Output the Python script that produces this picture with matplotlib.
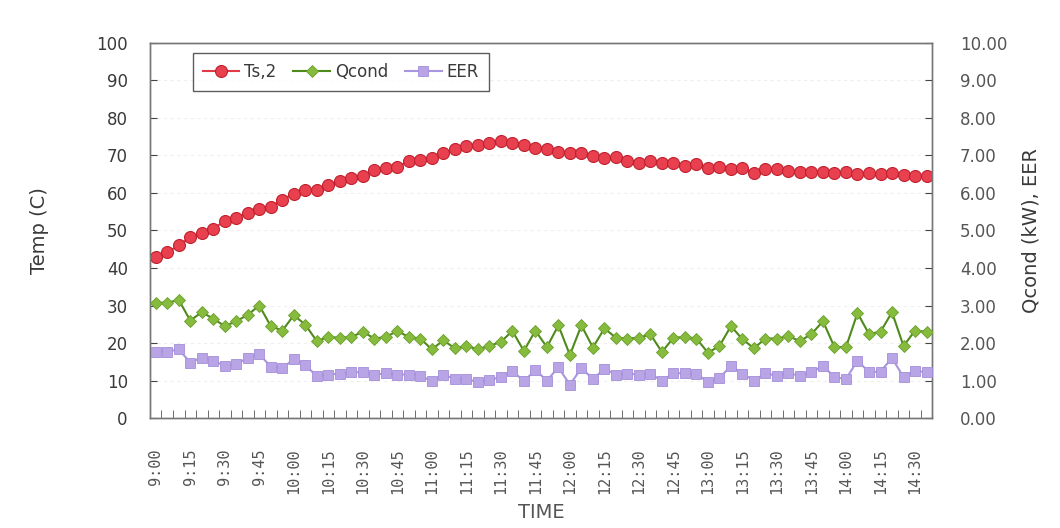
import numpy as np
import pandas as pd
import matplotlib
matplotlib.use("Agg")
import matplotlib.pyplot as plt

# %% data (5-minute samples 9:00 - 14:35)
times = pd.date_range("2000-01-01 09:00", "2000-01-01 14:35", freq="5min").strftime("%-H:%M").tolist()

ts2 = [42.9, 44.2, 46.0, 48.2, 49.3, 50.5, 52.5, 53.4, 54.7, 55.8,
       56.3, 58.2, 59.8, 60.9, 60.7, 62.2, 63.1, 63.9, 64.6, 66.1,
       66.6, 66.8, 68.6, 68.9, 69.2, 70.7, 71.6, 72.4, 72.9, 73.3,
       73.8, 73.3, 72.7, 72.1, 71.6, 71.0, 70.7, 70.7, 69.8, 69.2,
       69.5, 68.6, 68.1, 68.6, 67.9, 68.1, 67.2, 67.7, 66.6, 67.0,
       66.3, 66.6, 65.4, 66.3, 66.3, 65.9, 65.7, 65.7, 65.7, 65.4,
       65.7, 65.1, 65.3, 65.1, 65.3, 64.8, 64.6, 64.6]

qcond = [3.08, 3.07, 3.15, 2.60, 2.82, 2.65, 2.45, 2.58, 2.75, 3.00,
         2.45, 2.33, 2.74, 2.49, 2.05, 2.16, 2.14, 2.16, 2.30, 2.12,
         2.16, 2.32, 2.16, 2.12, 1.83, 2.07, 1.86, 1.92, 1.83, 1.92,
         2.03, 2.32, 1.79, 2.33, 1.89, 2.47, 1.68, 2.47, 1.88, 2.39,
         2.14, 2.12, 2.14, 2.23, 1.76, 2.14, 2.16, 2.12, 1.74, 1.92,
         2.45, 2.10, 1.86, 2.12, 2.12, 2.18, 2.05, 2.24, 2.58, 1.89,
         1.89, 2.80, 2.24, 2.30, 2.82, 1.92, 2.33, 2.30]

eer = [1.77, 1.77, 1.83, 1.48, 1.61, 1.53, 1.39, 1.44, 1.60, 1.70,
       1.37, 1.33, 1.57, 1.42, 1.11, 1.16, 1.18, 1.22, 1.22, 1.16,
       1.19, 1.16, 1.16, 1.13, 0.98, 1.16, 1.04, 1.04, 0.96, 1.02,
       1.09, 1.26, 0.98, 1.28, 1.00, 1.35, 0.89, 1.33, 1.04, 1.31,
       1.16, 1.18, 1.16, 1.18, 0.99, 1.20, 1.19, 1.18, 0.96, 1.07,
       1.39, 1.18, 1.00, 1.19, 1.13, 1.19, 1.13, 1.22, 1.39, 1.09,
       1.04, 1.53, 1.22, 1.24, 1.60, 1.09, 1.26, 1.22]

left_ticks = list(range(0, 101, 10))
right_ticks = [i * 1.0 for i in range(11)]

# %% figure
text_col = "#3a3a3a"
fig = plt.figure(figsize=(10.6, 5.28), dpi=100)
ax = fig.add_axes([0.1415, 0.2083, 0.738, 0.7103])
ax2 = ax.twinx()

x = np.arange(len(times))

l1, = ax.plot(x, ts2, color="#e03a48", lw=1.5, marker="o", ms=8.6,
              mfc="#e8404e", mec="#c0202e", mew=0.8, label="Ts,2", zorder=3)
l2, = ax2.plot(x, qcond, color="#4f8a1c", lw=1.5, marker="D", ms=6.5,
               mfc="#86bb3e", mec="#6a9e2c", mew=0.6, label="Qcond", zorder=3)
l3, = ax2.plot(x, eer, color="#a996e0", lw=1.5, marker="s", ms=6.5,
               mfc="#b9a4e6", mec="#a38fda", mew=0.6, label="EER", zorder=3)

ax.set_xlim(-0.5, len(times) - 0.5)
ax.set_ylim(0, 100)
ax2.set_ylim(0, 10)

ax.set_yticks(left_ticks)
ax.set_yticklabels([str(v) for v in left_ticks])
ax2.set_yticks(right_ticks)
ax2.set_yticklabels([f"{v:.2f}" for v in right_ticks])

# category labels every 15 minutes, tick marks between categories
ax.set_xticks(x[::3])
ax.set_xticklabels(times[::3], rotation=90, family="DejaVu Sans Mono",
                   fontsize=11, color="#555555")
ax.set_xticks(np.arange(len(times) + 1) - 0.5, minor=True)
ax.tick_params(axis="x", which="major", length=0, pad=22)
ax.tick_params(axis="x", which="minor", direction="in", length=6, color="#555555")
ax.tick_params(axis="y", direction="in", length=5, color="#444444",
               labelsize=12, labelcolor=text_col, pad=16)
ax2.tick_params(axis="y", direction="in", length=5, color="#444444",
                labelsize=12, labelcolor="#555555", pad=20)

ax.grid(axis="y", color="#efefef", lw=0.8, ls=(0, (3, 3)))
for a in (ax, ax2):
    for s in a.spines.values():
        s.set_color("#777777")
        s.set_linewidth(1.0)

ax.set_ylabel("Temp (C)", fontsize=14, color=text_col, labelpad=34)
ax2.set_ylabel("Qcond (kW), EER", fontsize=14, color=text_col, labelpad=10)
ax.set_xlabel("TIME", fontsize=14, color="#555555",
              family=["Liberation Sans Narrow", "DejaVu Sans"], labelpad=6)

leg = ax2.legend(handles=[l1, l2, l3], loc="upper left", ncol=3,
                 bbox_to_anchor=(0.044, 0.995), fontsize=12, frameon=True,
                 fancybox=False, edgecolor="#333333", handlelength=2.2,
                 handletextpad=0.3, columnspacing=1.0, borderpad=0.6)
for t in leg.get_texts():
    t.set_color(text_col)
leg.get_frame().set_linewidth(1.0)

fig.savefig("out.png", dpi=100)
